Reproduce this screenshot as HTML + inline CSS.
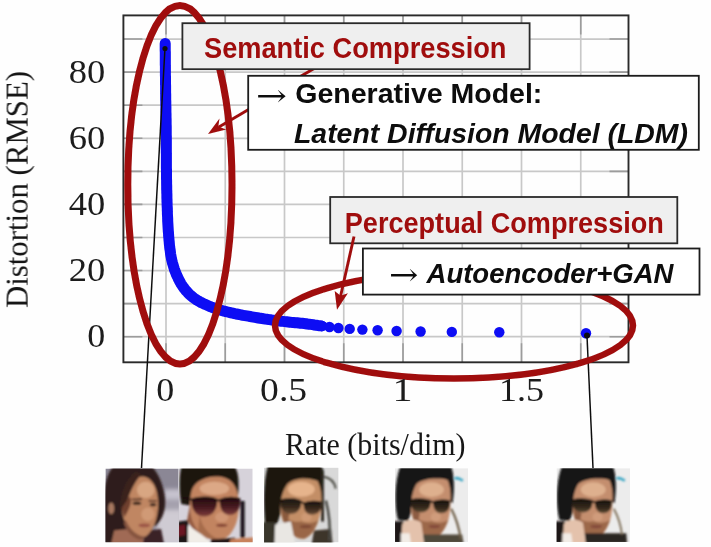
<!DOCTYPE html>
<html><head><meta charset="utf-8"><title>Rate-distortion</title>
<style>html,body{margin:0;padding:0;background:#fefefe}svg{display:block}</style></head>
<body>
<svg width="711" height="547" viewBox="0 0 711 547">
<defs>
<filter id="b1" x="-20%" y="-20%" width="140%" height="140%"><feGaussianBlur stdDeviation="1.6"/></filter>
<filter id="b2" x="-20%" y="-20%" width="140%" height="140%"><feGaussianBlur stdDeviation="3"/></filter>
<filter id="soft" x="-5%" y="-5%" width="110%" height="110%"><feGaussianBlur stdDeviation="0.45"/></filter>
<clipPath id="plotclip"><rect x="123.4" y="15.4" width="505.1" height="346.9"/></clipPath>
<clipPath id="fc"><rect x="0" y="0" width="100" height="100"/></clipPath>
</defs>
<rect width="711" height="547" fill="#fefefe"/>
<g filter="url(#soft)">
<path d="M166.00 15.4 V362.3 M225.25 15.4 V362.3 M284.50 15.4 V362.3 M343.75 15.4 V362.3 M403.00 15.4 V362.3 M462.25 15.4 V362.3 M521.50 15.4 V362.3 M580.75 15.4 V362.3 M123.4 336.70 H628.5 M123.4 303.63 H628.5 M123.4 270.56 H628.5 M123.4 237.49 H628.5 M123.4 204.42 H628.5 M123.4 171.35 H628.5 M123.4 138.28 H628.5 M123.4 105.21 H628.5 M123.4 72.14 H628.5 M123.4 39.07 H628.5" stroke="#c8c8c8" stroke-width="1.7" fill="none"/>
<path d="M166.00 362.3 v-19 M166.00 15.4 v19 M225.25 362.3 v-19 M225.25 15.4 v19 M284.50 362.3 v-19 M284.50 15.4 v19 M343.75 362.3 v-19 M343.75 15.4 v19 M403.00 362.3 v-19 M403.00 15.4 v19 M462.25 362.3 v-19 M462.25 15.4 v19 M521.50 362.3 v-19 M521.50 15.4 v19 M580.75 362.3 v-19 M580.75 15.4 v19 M123.4 336.70 h19 M628.5 336.70 h-19 M123.4 303.63 h19 M628.5 303.63 h-19 M123.4 270.56 h19 M628.5 270.56 h-19 M123.4 237.49 h19 M628.5 237.49 h-19 M123.4 204.42 h19 M628.5 204.42 h-19 M123.4 171.35 h19 M628.5 171.35 h-19 M123.4 138.28 h19 M628.5 138.28 h-19 M123.4 105.21 h19 M628.5 105.21 h-19 M123.4 72.14 h19 M628.5 72.14 h-19 M123.4 39.07 h19 M628.5 39.07 h-19" stroke="#9c9c9c" stroke-width="1.6" fill="none"/>
<rect x="123.4" y="15.4" width="505.1" height="346.9" fill="none" stroke="#2a2a2a" stroke-width="1.9"/>
<path d="M165.2 43.5 L165.2 45.3 L165.2 47.0 L165.2 48.8 L165.2 50.5 L165.3 52.3 L165.3 54.0 L165.3 55.8 L165.3 57.5 L165.3 59.3 L165.3 61.1 L165.3 62.8 L165.3 64.6 L165.4 66.3 L165.4 68.1 L165.4 69.8 L165.4 71.6 L165.4 73.3 L165.4 75.1 L165.5 76.9 L165.5 78.6 L165.5 80.4 L165.5 82.1 L165.5 83.9 L165.6 85.6 L165.6 87.4 L165.6 89.1 L165.6 90.9 L165.6 92.6 L165.7 94.4 L165.7 96.2 L165.7 97.9 L165.7 99.7 L165.8 101.4 L165.8 103.2 L165.8 104.9 L165.9 106.7 L165.9 108.4 L165.9 110.2 L165.9 112.0 L166.0 113.7 L166.0 115.5 L166.0 117.2 L166.1 119.0 L166.1 120.7 L166.1 122.5 L166.1 124.2 L166.2 126.0 L166.2 127.7 L166.2 129.5 L166.2 131.3 L166.2 133.0 L166.2 134.8 L166.3 136.5 L166.3 138.3 L166.3 140.0 L166.3 141.8 L166.3 143.5 L166.3 145.3 L166.3 147.1 L166.3 148.8 L166.3 150.6 L166.3 152.3 L166.4 154.1 L166.4 155.8 L166.4 157.6 L166.4 159.3 L166.4 161.1 L166.4 162.9 L166.4 164.6 L166.4 166.4 L166.4 168.1 L166.5 169.9 L166.5 171.6 L166.5 173.4 L166.5 175.1 L166.5 176.9 L166.5 178.7 L166.6 180.4 L166.6 182.2 L166.6 183.9 L166.7 185.7 L166.7 187.4 L166.7 189.2 L166.8 190.9 L166.8 192.7 L166.9 194.4 L166.9 196.2 L166.9 198.0 L167.0 199.7 L167.0 201.5 L167.1 203.2 L167.1 205.0 L167.2 206.7 L167.3 208.5 L167.3 210.2 L167.4 212.0 L167.4 213.7 L167.5 215.5 L167.6 217.3 L167.7 219.0 L167.7 220.8 L167.8 222.5 L167.9 224.3 L168.0 226.0 L168.1 227.8 L168.2 229.5 L168.3 231.3 L168.5 233.0 L168.6 234.8 L168.7 236.5 L168.9 238.3 L169.0 240.0 L169.2 241.8 L169.3 243.5 L169.5 245.3 L169.7 247.0 L169.9 248.8 L170.2 250.5 L170.4 252.3 L170.6 254.0 L170.9 255.7 L171.2 257.4 L171.6 259.2 L172.0 260.9 L172.4 262.6 L172.9 264.3 L173.4 266.0 L173.9 267.6 L174.4 269.3 L175.0 271.0 L175.7 272.6 L176.3 274.2 L177.0 275.8 L177.8 277.4 L178.5 279.0 L179.3 280.6 L180.2 282.1 L181.0 283.7 L182.0 285.2 L182.9 286.6 L183.9 288.0 L185.0 289.4 L186.1 290.8 L187.3 292.1 L188.5 293.4 L189.7 294.6 L191.1 295.8 L192.4 296.9 L193.8 298.0 L195.3 299.0 L196.7 300.0 L198.2 300.9 L199.7 301.7 L201.3 302.6 L202.9 303.3 L204.5 304.1 L206.1 304.8 L207.7 305.5 L209.3 306.2 L210.9 306.9 L212.6 307.5 L214.2 308.1 L215.9 308.6 L217.5 309.2 L219.2 309.7 L220.9 310.2 L222.6 310.7 L224.3 311.2 L226.0 311.6 L227.7 312.0 L229.4 312.4 L231.1 312.8 L232.8 313.2 L234.5 313.6 L236.2 314.0 L238.0 314.3 L239.7 314.6 L241.4 315.0 L243.1 315.3 L244.9 315.6 L246.6 315.9 L248.3 316.2 L250.1 316.5 L251.8 316.8 L253.5 317.1 L255.2 317.4 L257.0 317.7 L258.7 318.0 L260.4 318.3 L262.2 318.5 L263.9 318.8 L265.6 319.1 L267.4 319.3 L269.1 319.6 L270.9 319.8 L272.6 320.1 L274.3 320.3 L276.1 320.5 L277.8 320.8 L279.6 321.0 L281.3 321.2 L283.0 321.4 L284.8 321.6 L286.5 321.8 L288.3 322.0 L290.0 322.2 L291.8 322.4 L293.5 322.5 L295.3 322.7 L297.0 322.8 L298.8 323.0 L300.5 323.2 L302.3 323.3 L304.0 323.5 L305.7 323.7 L307.5 324.0 L309.2 324.2 L311.0 324.4 L312.7 324.7 L314.4 325.0 L316.2 325.2 L317.9 325.5 L319.6 325.7 L321.4 325.9" stroke="#0808f4" stroke-width="11" stroke-linecap="round" stroke-linejoin="round" fill="none"/>
<circle cx="586.0" cy="333.2" r="5.2" fill="#0808f4"/>
<circle cx="499.3" cy="332.2" r="5.2" fill="#0808f4"/>
<circle cx="451.8" cy="331.9" r="5.2" fill="#0808f4"/>
<circle cx="420.6" cy="331.5" r="5.2" fill="#0808f4"/>
<circle cx="396.6" cy="331.0" r="5.2" fill="#0808f4"/>
<circle cx="377.6" cy="330.3" r="5.2" fill="#0808f4"/>
<circle cx="362.4" cy="329.6" r="5.2" fill="#0808f4"/>
<circle cx="349.7" cy="328.9" r="5.2" fill="#0808f4"/>
<circle cx="338.4" cy="328.0" r="5.2" fill="#0808f4"/>
<circle cx="329.5" cy="327.0" r="5.2" fill="#0808f4"/>
<circle cx="321.9" cy="326.0" r="5.2" fill="#0808f4"/>
<path d="M165 48 L141.5 468 M587 336 L593 468" stroke="#111" stroke-width="1.5" fill="none"/>
<circle cx="165" cy="48.5" r="2.6" fill="#111"/><circle cx="587" cy="335.5" r="3" fill="#111"/>
<ellipse cx="179.9" cy="184.8" rx="52.1" ry="179.2" fill="none" stroke="#a00f0f" stroke-width="7"/>
<ellipse cx="454" cy="325.5" rx="179" ry="53" fill="none" stroke="#a00f0f" stroke-width="6.5"/>
<path d="M296 79 L318 66.2" stroke="#a00f0f" stroke-width="2.9" fill="none"/>
<path d="M218.5 127.2 L249 109.2" stroke="#a00f0f" stroke-width="2.9" fill="none"/>
<path d="M208 133.9 L219.5 118.5 L218.3 126.6 L226.2 129.6 Z" fill="#a00f0f"/>
<rect x="182.4" y="23.2" width="347.2" height="46.0" fill="#efefef" stroke="#2b2b2b" stroke-width="1.8"/>
<rect x="248.2" y="75.8" width="450.6" height="74.0" fill="#ffffff" stroke="#1a1a1a" stroke-width="1.8"/>
<rect x="330.2" y="197" width="347.1" height="46.3" fill="#efefef" stroke="#2b2b2b" stroke-width="1.8"/>
<rect x="362.9" y="248.5" width="336.6" height="46.1" fill="#ffffff" stroke="#1a1a1a" stroke-width="1.8"/>
<path d="M354 236.5 L340.6 296" stroke="#a00f0f" stroke-width="2.9" fill="none"/>
<path d="M337 309.8 L334.7 291 L340.6 295.8 L347.9 293.3 Z" fill="#a00f0f"/>
<text x="204" y="58" font-size="29" font-family="'Liberation Sans', sans-serif" fill="#a00f0f" textLength="302.5" lengthAdjust="spacingAndGlyphs" font-weight="bold">Semantic Compression</text>
<text x="344.8" y="232.6" font-size="29" font-family="'Liberation Sans', sans-serif" fill="#a00f0f" textLength="319" lengthAdjust="spacingAndGlyphs" font-weight="bold">Perceptual Compression</text>
<text x="256" y="106.2" font-size="30" font-family="'DejaVu Serif', serif" fill="#111" textLength="31" lengthAdjust="spacingAndGlyphs" >→</text>
<text x="295.3" y="103.4" font-size="27" font-family="'Liberation Sans', sans-serif" fill="#0a0a0a" textLength="247" lengthAdjust="spacingAndGlyphs" font-weight="bold">Generative Model:</text>
<text x="294" y="142.6" font-size="28" font-family="'Liberation Sans', sans-serif" fill="#0a0a0a" textLength="394" lengthAdjust="spacingAndGlyphs" font-weight="bold" font-style="italic">Latent Diffusion Model (LDM)</text>
<text x="389" y="284.5" font-size="30" font-family="'DejaVu Serif', serif" fill="#111" textLength="29.5" lengthAdjust="spacingAndGlyphs" >→</text>
<text x="426.5" y="282.8" font-size="28" font-family="'Liberation Sans', sans-serif" fill="#0a0a0a" textLength="247" lengthAdjust="spacingAndGlyphs" font-weight="bold" font-style="italic">Autoencoder+GAN</text>
<text x="68.8" y="82.7" font-size="33.5" font-family="'Liberation Serif', serif" fill="#1c1c1c" textLength="36.5" lengthAdjust="spacingAndGlyphs">80</text>
<text x="68.8" y="148.9" font-size="33.5" font-family="'Liberation Serif', serif" fill="#1c1c1c" textLength="36.5" lengthAdjust="spacingAndGlyphs">60</text>
<text x="68.8" y="215.0" font-size="33.5" font-family="'Liberation Serif', serif" fill="#1c1c1c" textLength="36.5" lengthAdjust="spacingAndGlyphs">40</text>
<text x="68.8" y="281.2" font-size="33.5" font-family="'Liberation Serif', serif" fill="#1c1c1c" textLength="36.5" lengthAdjust="spacingAndGlyphs">20</text>
<text x="87.2" y="347.3" font-size="33.5" font-family="'Liberation Serif', serif" fill="#1c1c1c" textLength="18" lengthAdjust="spacingAndGlyphs">0</text>
<text x="156.3" y="400.7" font-size="33.5" font-family="'Liberation Serif', serif" fill="#1c1c1c" textLength="18" lengthAdjust="spacingAndGlyphs">0</text>
<text x="260.1" y="400.7" font-size="33.5" font-family="'Liberation Serif', serif" fill="#1c1c1c" textLength="47" lengthAdjust="spacingAndGlyphs">0.5</text>
<text x="392.6" y="400.7" font-size="33.5" font-family="'Liberation Serif', serif" fill="#1c1c1c" textLength="20" lengthAdjust="spacingAndGlyphs">1</text>
<text x="499.0" y="400.7" font-size="33.5" font-family="'Liberation Serif', serif" fill="#1c1c1c" textLength="45" lengthAdjust="spacingAndGlyphs">1.5</text>
<text x="285" y="454.8" font-size="30.7" font-family="'Liberation Serif', serif" fill="#161616" textLength="180.5" lengthAdjust="spacingAndGlyphs" >Rate (bits/dim)</text>
<text transform="translate(27.6 308) rotate(-90)" font-size="30.7" font-family="'Liberation Serif', serif" fill="#161616" textLength="237" lengthAdjust="spacingAndGlyphs">Distortion (RMSE)</text>
</g>
<defs>
<linearGradient id="lg2" x1="0" y1="0" x2="0" y2="1"><stop offset="0" stop-color="#22090d"/><stop offset="0.55" stop-color="#4a1c22"/><stop offset="1" stop-color="#80403c"/></linearGradient>
<linearGradient id="lg3" x1="0" y1="0" x2="0" y2="1"><stop offset="0" stop-color="#1c140e"/><stop offset="0.55" stop-color="#3a2a1e"/><stop offset="1" stop-color="#6e5038"/></linearGradient>
<linearGradient id="lg4" x1="0" y1="0" x2="0" y2="1"><stop offset="0" stop-color="#17120c"/><stop offset="0.6" stop-color="#33291c"/><stop offset="1" stop-color="#5e4a34"/></linearGradient>
</defs>
<g transform="translate(105.4 468.5) scale(0.7330 0.7380)" clip-path="url(#fc)"><rect width="100" height="100" fill="#8b8795"/>
<g filter="url(#b2)">
<rect x="80" y="28" width="30" height="14" fill="#c6c2ce"/>
<rect x="78" y="42" width="30" height="14" fill="#a5a1ae"/>
<rect x="70" y="56" width="36" height="50" fill="#cfcbd3"/>
</g>
<g filter="url(#b1)">
<path d="M10 -2 C0 10 -2 30 -2 44 L-2 102 L28 102 L36 64 L68 78 C80 68 83 52 81 38 C79 22 72 6 64 -2 Z" fill="#2f1f1b"/>
<path d="M56 84 L76 82 L80 102 L50 102 Z" fill="#3a2228"/>
<path d="M12 84 L50 80 L52 102 L8 102 Z" fill="#a06a54"/>
<ellipse cx="8" cy="54" rx="4" ry="8" fill="#a87860"/>
<path d="M50 11 C62 11 72 24 72 48 C72 66 66 84 55 92 C45 95 31 86 25 68 C20 52 23 36 31 24 C37 15 44 11 50 11 Z" fill="#c08662"/>
<ellipse cx="55" cy="29" rx="12" ry="11" fill="#d8a682"/>
<ellipse cx="58" cy="62" rx="9" ry="9" fill="#d09a76"/>
<path d="M49 8 C40 18 33 32 28 50 L20 56 C20 32 30 12 42 4 Z" fill="#3a241c"/>
<path d="M33 38 C38 44 32 56 26 66 L22 54 Z" fill="#70402e"/>
<ellipse cx="43" cy="47" rx="6" ry="2.4" fill="#3a261e"/>
<ellipse cx="65" cy="49" rx="4.5" ry="2.2" fill="#3a261e"/>
<path d="M36 42 L50 41.5 M59 44 L70 44" stroke="#4a2c20" stroke-width="2.2"/>
<ellipse cx="53" cy="77" rx="8" ry="2.6" fill="#9c5446"/>
<path d="M28 70 C34 84 44 92 55 92 L50 97 C40 97 30 88 25 74 Z" fill="#865440"/>
</g></g>
<g transform="translate(179 468.5) scale(0.7370 0.7380)" clip-path="url(#fc)"><rect width="100" height="100" fill="#d6d2da"/>
<g filter="url(#b1)">
<path d="M3 -2 L76 -2 C81 6 82 20 80 38 L76 30 L20 30 L15 50 L3 48 C0 30 0 10 3 -2 Z" fill="#1c1410"/>
<path d="M17 30 C22 16 38 11 50 11 C68 11 80 20 81 46 C82 66 77 84 64 94 C54 100 38 97 27 87 C15 74 12 50 17 30 Z" fill="#c28460"/>
<ellipse cx="48" cy="27" rx="20" ry="9" fill="#dca886"/>
<ellipse cx="58" cy="66" rx="9" ry="7" fill="#d09674"/>
<path d="M15 48 C14 70 24 88 40 96 L26 93 L11 70 Z" fill="#945a40"/>
<path d="M28 62 C30 78 40 90 54 96 C44 98 32 92 26 84 Z" fill="#a66c4c"/>
<path d="M-2 72 L12 70 L16 102 L-2 102 Z" fill="#1c1214"/>
<path d="M-2 78 L8 76 L9 90 L-2 92 Z" fill="#6a1420"/>
<path d="M12 77 L30 89 L46 102 L12 102 Z" fill="#f1ede7"/>
<path d="M44 96 L76 94 L78 102 L42 102 Z" fill="#201418"/>
<path d="M70 96 L102 93 L102 102 L68 102 Z" fill="#c8805a"/>
<rect x="83.5" y="44" width="5.5" height="50" fill="#181014"/>
<path d="M17 42 C29 38 46 39 52 43 C52 56 45 65 34 65 C23 65 16 55 17 42 Z" fill="url(#lg2)"/>
<path d="M55 43 C63 39 77 39 83 42 C84 53 79 63 69 63 C60 63 55 55 55 43 Z" fill="url(#lg2)"/>
<path d="M5 39 L19 43 M50 43 L57 43" stroke="#1c0c10" stroke-width="2.5"/>
<path d="M17 42 C29 38 46 39 52 43 M55 43 C63 39 77 39 83 42" stroke="#180a0c" stroke-width="3" fill="none"/>
<ellipse cx="58" cy="77" rx="8" ry="2.2" fill="#844434"/>
</g></g>
<g transform="translate(264 467.6) scale(0.7460 0.7480)" clip-path="url(#fc)"><rect width="100" height="100" fill="#d9d9d9"/>
<g filter="url(#b1)">
<path d="M5 -2 L76 -2 C80 2 81 8 80 14 L79 40 L50 40 L24 40 L22 62 L16 80 L2 78 C-1 50 -1 20 5 -2 Z" fill="#1a1810"/>
<path d="M76.5 3 L80 3 L80.5 72 L76.5 72 Z" fill="#2a261e"/>
<path d="M30 24 C36 14 58 12 72 18 C76 26 77.5 36 77 48 C76 70 68 90 54 95 C42 97 28 84 23 64 C21 52 22 36 30 24 Z" fill="#c38e66"/>
<ellipse cx="50" cy="29" rx="18" ry="10" fill="#e6b48c"/>
<ellipse cx="57" cy="66" rx="7" ry="6" fill="#cf9a74"/>
<path d="M24 60 C26 80 40 96 54 95 C62 92 68 84 73 70 C64 76 56 74 50 72 C40 74 30 70 24 60 Z" fill="#9a6646"/>
<path d="M24 46 C22 56 24 70 30 80 L34 62 Z" fill="#8a5a3e"/>
<path d="M-2 73 L15 73 L18 102 L-2 102 Z" fill="#38342a"/>
<path d="M15 76 L36 72 L42 102 L14 102 Z" fill="#e9e7e3"/>
<path d="M67 84 L90 82 L92 102 L64 102 Z" fill="#3c342c"/>
<path d="M80 12 C90 14 95 20 96 28" stroke="#55554e" stroke-width="3" fill="none"/>
<path d="M83 44 C87 60 89 80 88 98" stroke="#4a4a44" stroke-width="3.5" fill="none"/>
<path d="M22 44 C32 41 45 42 50 46 C50 56 44 62 35 62 C27 62 21 54 22 44 Z" fill="url(#lg3)"/>
<path d="M53 48 C60 45 71 45 77 47 C78 56 73 63 64 63 C57 63 53 57 53 48 Z" fill="url(#lg3)"/>
<path d="M22 44 C32 41 45 42 50 46 L54 48 C60 45 71 45 77 47" stroke="#17100a" stroke-width="2.6" fill="none"/>
<ellipse cx="56" cy="79" rx="8" ry="2.2" fill="#7e4836"/>
</g></g>
<g transform="translate(395 468.2) scale(0.7300 0.7380)" clip-path="url(#fc)"><rect width="100" height="100" fill="#ececec"/>
<g filter="url(#b1)">
<path d="M82 14 C86 12 90 15 93 17" stroke="#3aa6c4" stroke-width="3.5" fill="none"/>
<path d="M7 -2 L77 -2 C81 8 82 28 79 47 L60 40 L24 40 L22 60 L18 72 L4 70 C-1 50 -1 20 7 -2 Z" fill="#121212"/>
<path d="M29 22 C36 14 60 12 72 16 C76 24 77 36 76 48 C76 70 68 90 54 95 C42 97 28 84 23 64 C21 52 22 34 29 22 Z" fill="#c48e6e"/>
<ellipse cx="50" cy="29" rx="17" ry="10" fill="#deb08e"/>
<ellipse cx="56" cy="66" rx="7" ry="6" fill="#d09c7c"/>
<path d="M24 60 C26 80 40 96 54 95 C62 92 68 84 73 70 C64 76 56 74 50 72 C40 74 30 70 24 60 Z" fill="#9c684a"/>
<path d="M24 46 C22 56 24 70 30 80 L34 62 Z" fill="#8c5c42"/>
<path d="M-2 72 L12 72 L14 102 L-2 102 Z" fill="#1a1612"/>
<path d="M37 90 L92 90 L94 102 L37 102 Z" fill="#50483a"/><path d="M77 55 C84 68 88 82 90 96" stroke="#6c5c44" stroke-width="3" fill="none"/>
<path d="M10 76 C14 68 30 68 36 74 L40 102 L8 102 Z" fill="#e4c2ac"/>
<path d="M8 88 L20 88 L22 102 L8 102 Z" fill="#f2ece6"/>
<path d="M21 44 C31 41 44 42 49 45 C49 54 44 60 35 60 C27 60 20 53 21 44 Z" fill="url(#lg4)"/>
<path d="M52 45 C59 43 70 43 75 45 C76 54 72 61 63 61 C56 61 52 54 52 45 Z" fill="url(#lg4)"/>
<path d="M21 44 C31 41 44 42 49 45 L53 46 C59 43 70 43 75 45" stroke="#15100a" stroke-width="2.6" fill="none"/>
<ellipse cx="54" cy="79" rx="8" ry="2.2" fill="#84493a"/>
</g></g>
<g transform="translate(556.5 468.2) scale(0.7350 0.7380)" clip-path="url(#fc)"><rect width="100" height="100" fill="#ececec"/>
<g filter="url(#b1)">
<path d="M82 14 C86 12 90 15 93 17" stroke="#3aa6c4" stroke-width="3.5" fill="none"/>
<path d="M7 -2 L77 -2 C81 8 82 28 79 47 L60 40 L24 40 L22 60 L18 72 L4 70 C-1 50 -1 20 7 -2 Z" fill="#121212"/>
<path d="M29 22 C36 14 60 12 72 16 C76 24 77 36 76 48 C76 70 68 90 54 95 C42 97 28 84 23 64 C21 52 22 34 29 22 Z" fill="#c48e6e"/>
<ellipse cx="50" cy="29" rx="17" ry="10" fill="#deb08e"/>
<ellipse cx="56" cy="66" rx="7" ry="6" fill="#d09c7c"/>
<path d="M24 60 C26 80 40 96 54 95 C62 92 68 84 73 70 C64 76 56 74 50 72 C40 74 30 70 24 60 Z" fill="#9c684a"/>
<path d="M24 46 C22 56 24 70 30 80 L34 62 Z" fill="#8c5c42"/>
<path d="M-2 72 L12 72 L14 102 L-2 102 Z" fill="#1a1612"/>
<path d="M38 88 L95 88 L96 102 L38 102 Z" fill="#2c2622"/><path d="M78 55 C85 68 88 80 89 90" stroke="#7c6c54" stroke-width="2.5" fill="none"/>
<path d="M10 76 C14 68 30 68 36 74 L40 102 L8 102 Z" fill="#e4c2ac"/>
<path d="M8 88 L20 88 L22 102 L8 102 Z" fill="#f2ece6"/>
<path d="M21 44 C31 41 44 42 49 45 C49 54 44 60 35 60 C27 60 20 53 21 44 Z" fill="url(#lg4)"/>
<path d="M52 45 C59 43 70 43 75 45 C76 54 72 61 63 61 C56 61 52 54 52 45 Z" fill="url(#lg4)"/>
<path d="M21 44 C31 41 44 42 49 45 L53 46 C59 43 70 43 75 45" stroke="#15100a" stroke-width="2.6" fill="none"/>
<ellipse cx="54" cy="79" rx="8" ry="2.2" fill="#84493a"/>
</g></g>
</svg>
</body></html>
